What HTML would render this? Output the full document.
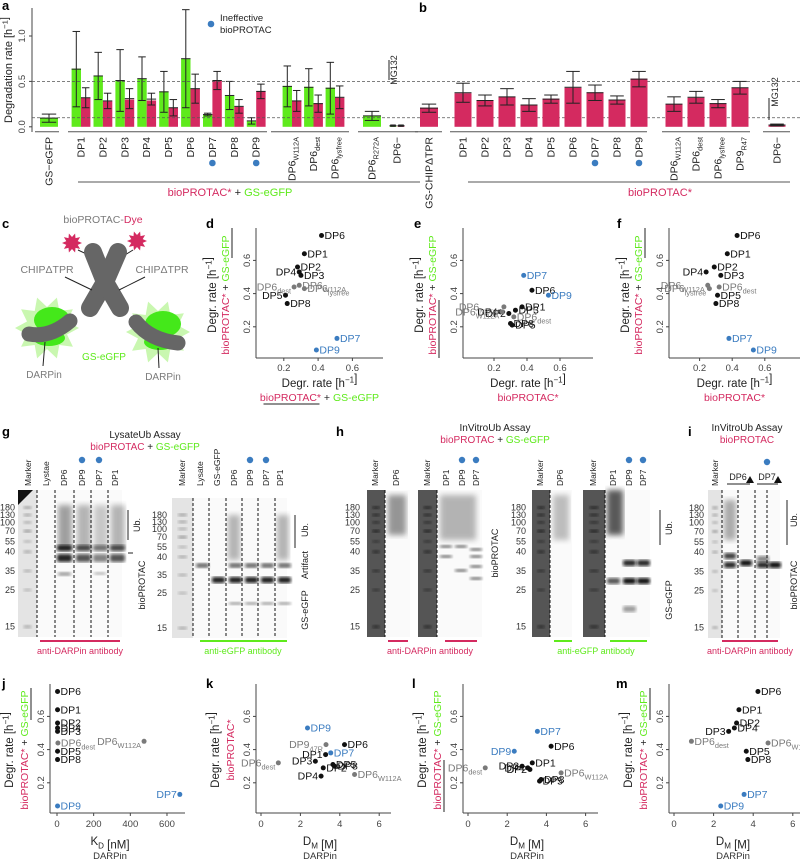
<!DOCTYPE html>
<html><head><meta charset="utf-8">
<style>
html,body{margin:0;padding:0;background:#fff;}
svg{display:block;font-family:"Liberation Sans",Arial,sans-serif;}
</style></head>
<body>
<svg id="fig" width="800" height="861" viewBox="0 0 800 861" xmlns="http://www.w3.org/2000/svg">
<defs>
<filter id="blur1"><feGaussianBlur stdDeviation="1.6"/></filter>
<filter id="blur2"><feGaussianBlur stdDeviation="3"/></filter>
</defs>
</svg>
<script>
// ---------- DATA ----------
const cats = ["DP1","DP2","DP3","DP4","DP5","DP6","DP7","DP8","DP9"];
const varCats = ["DP6_{W112A}","DP6_{dest}","DP6_{lysfree}"];
const aGreen = [0.64,0.56,0.51,0.53,0.39,0.75,0.13,0.34,0.06];
const aGreenLo = [0.22,0.30,0.17,0.29,0.16,0.21,0.12,0.19,0.03];
const aGreenHi = [1.05,0.82,0.85,0.77,0.61,1.29,0.15,0.50,0.10];
const aRed = [0.32,0.28,0.30,0.29,0.21,0.42,0.51,0.22,0.39];
const aRedLo = [0.21,0.20,0.20,0.24,0.12,0.26,0.41,0.15,0.31];
const aRedHi = [0.43,0.37,0.42,0.37,0.30,0.58,0.61,0.30,0.47];
const aVarGreen = [0.45,0.44,0.43];
const aVarGreenLo = [0.22,0.23,0.14];
const aVarGreenHi = [0.67,0.64,0.71];
const aVarRed = [0.29,0.26,0.32];
const aVarRedLo = [0.17,0.16,0.20];
const aVarRedHi = [0.40,0.35,0.45];
const aCtrl = [0.10,0.05,0.14];
const aR272A = [0.12,0.07,0.17];
const aMG = [0.01,0.005,0.02];
const bVal = [0.37,0.29,0.33,0.24,0.31,0.43,0.38,0.30,0.53];
const bLo = [0.27,0.23,0.24,0.17,0.26,0.26,0.29,0.25,0.44];
const bHi = [0.48,0.35,0.42,0.31,0.35,0.61,0.46,0.34,0.61];
const bVarCats = ["DP6_{W112A}","DP6_{dest}","DP6_{lysfree}","DP9_{R47}"];
const bVar = [0.25,0.32,0.26,0.43];
const bVarLo = [0.17,0.26,0.21,0.36];
const bVarHi = [0.33,0.39,0.30,0.50];
const bChip = [0.21,0.16,0.25];
const bMG = [0.02,0.01,0.03];
const ineffective = ["DP7","DP9"];
const yTicksA = [0.0,0.5,1.0];
const scTicks = [0.2,0.4,0.6];
const kdCats = ["DP1","DP2","DP3","DP4","DP5","DP6","DP7","DP8","DP9"];
const kdVals = [3,3,3,3,3,3,670,3,3];
const dmCats = ["DP1","DP2","DP3","DP4","DP5","DP6","DP7","DP8","DP9"];
const dmVals = [3.28,3.16,2.76,3.05,3.65,4.24,3.54,3.73,2.36];
const dmDest = 0.88, dmW112A = 4.75, dm47R = 3.3, kdW112A = 475, kdDest = 5;
const kdTicks = [0,200,400,600];
const dmTicks = [0,2,4,6];

// ---------- HELPERS ----------
const NS="http://www.w3.org/2000/svg";
const svg=document.getElementById('fig');
function mk(tag,attrs,parent,name,inter){
  const el=document.createElementNS(NS,tag);
  for(const k in attrs) el.setAttribute(k,attrs[k]);
  
  
  (parent||svg).appendChild(el);
  return el;
}
function grp(name){return mk('g',{},svg,name);}
function line(p,x1,y1,x2,y2,c,w,dash,name){
  const a={x1,y1,x2,y2,stroke:c||'#333','stroke-width':w||1};
  if(dash) a['stroke-dasharray']=dash;
  return mk('line',a,p,name||'line');
}
function txt(p,x,y,s,o){
  o=o||{};
  const a={x,y,'font-size':o.size||9,fill:o.color||'#222','text-anchor':o.anchor||'start'};
  if(o.weight) a['font-weight']=o.weight;
  if(o.rot!==undefined) a.transform=`rotate(${o.rot} ${x} ${y})`;
  const t=mk('text',a,p,o.name||'label');
  const parts=s.split(/(_\{[^}]*\}|\^\{[^}]*\})/);
  const fs=o.size||9;
  for(const part of parts){
    if(!part) continue;
    const ts=document.createElementNS(NS,'tspan');
    if(part[0]==='_'&&part[1]==='{'){
      ts.textContent=part.slice(2,-1);
      ts.setAttribute('font-size',fs*0.7);
      ts.setAttribute('dy',fs*0.3);
      t.appendChild(ts);
      const back=document.createElementNS(NS,'tspan');back.setAttribute('dy',-fs*0.3);back.textContent='';t.appendChild(back);
    }else if(part[0]==='^'&&part[1]==='{'){
      ts.textContent=part.slice(2,-1);
      ts.setAttribute('font-size',fs*0.7);
      ts.setAttribute('dy',-fs*0.4);
      t.appendChild(ts);
      const back=document.createElementNS(NS,'tspan');back.setAttribute('dy',fs*0.4);back.textContent='';t.appendChild(back);
    }else{ts.textContent=part;t.appendChild(ts);}
  }
  return t;
}
function multi(p,x,y,segs,o){
  const a={x,y,'font-size':o.size||10,'text-anchor':o.anchor||'middle'};
  if(o.rot!==undefined) a.transform=`rotate(${o.rot} ${x} ${y})`;
  const t=mk('text',a,p,o.name||'label');
  for(const [s,c] of segs){const ts=document.createElementNS(NS,'tspan');ts.textContent=s;ts.setAttribute('fill',c);t.appendChild(ts);}
  return t;
}
const GREEN='#5fea1c', RED='#d42a60', BLUE='#3b7cc0', GRAY='#7a7a7a';
function letter(x,y,s){txt(svg,x,y,s,{size:13,weight:'bold',color:'#000',name:'panel-letter-'+s});}

// ---------- PANELS a & b ----------
const y0=126.8, ky=90.8;
const ya=v=>y0-v*ky;
const gA=grp('panel-a');
letter(2,10,'a'); letter(419,12,'b');
line(gA,32,8,32,132,'#444',1,null,'y-axis');
yTicksA.forEach(t=>{line(gA,29,ya(t),32,ya(t),'#444',1,null,'y-tick');
  txt(gA,25,ya(t),t.toFixed(1),{size:9.5,anchor:'middle',rot:-90,color:'#444',name:'y-tick-label'});});
txt(gA,12,70,'Degradation rate [h^{−1}]',{size:11,anchor:'middle',rot:-90,name:'y-axis-title'});
line(svg,32,ya(0.5),800,ya(0.5),'#555',0.8,'3,2','ref-line-0.5');
line(svg,32,ya(0.1),800,ya(0.1),'#555',0.8,'3,2','ref-line-0.1');
function bar(p,cx,w,v,lo,hi,color,name){
  mk('rect',{x:cx-w/2,y:ya(v),width:w,height:ya(0)-ya(v),fill:color},p,name);
  const c='#222';
  line(p,cx,ya(lo),cx,ya(hi),c,1,null,'error-bar');
  line(p,cx-w*0.4,ya(hi),cx+w*0.4,ya(hi),c,1,null,'error-cap');
  line(p,cx-w*0.4,ya(lo),cx+w*0.4,ya(lo),c,1,null,'error-cap');
  line(p,cx-w/2,ya((lo+hi)/2),cx+w/2,ya((lo+hi)/2),c,1,null,'mean-line');
}
function xlab(p,cx,s){txt(p,cx+3.5,137,s,{size:10.5,anchor:'end',rot:-90,name:'x-label'});}
bar(gA,49,18,aCtrl[0],aCtrl[1],aCtrl[2],GREEN,'bar-gs-egfp');
xlab(gA,49,'GS−eGFP');
const pairX=i=>81+i*21.9;
cats.forEach((c,i)=>{
  const cx=pairX(i);
  bar(gA,cx-4.7,9.4,aGreen[i],aGreenLo[i],aGreenHi[i],GREEN,'bar-green-'+c);
  bar(gA,cx+4.7,9.4,aRed[i],aRedLo[i],aRedHi[i],RED,'bar-red-'+c);
  xlab(gA,cx,c);
  if(ineffective.includes(c)) mk('circle',{cx:cx,cy:163,r:3.3,fill:BLUE},gA,'ineffective-dot');
});
varCats.forEach((c,i)=>{
  const cx=292+i*21.5;
  bar(gA,cx-4.7,9.4,aVarGreen[i],aVarGreenLo[i],aVarGreenHi[i],GREEN,'bar-green-var');
  bar(gA,cx+4.7,9.4,aVarRed[i],aVarRedLo[i],aVarRedHi[i],RED,'bar-red-var');
  xlab(gA,cx,c);
});
bar(gA,372,18,aR272A[0],aR272A[1],aR272A[2],GREEN,'bar-r272a');
xlab(gA,372,'DP6_{R272A}');
bar(gA,393,7,aMG[0],aMG[1],aMG[2],GREEN,'bar-mg-green');
bar(gA,401,7,aMG[0],aMG[1],aMG[2],RED,'bar-mg-red');
xlab(gA,397,'DP6−');
line(gA,389,60,389,80,'#222',1,null,'mg132-line');
txt(gA,397,70,'MG132',{size:9,anchor:'middle',rot:-90,name:'mg132-label'});
[[35,59],[68,267],[271,349],[358,418]].forEach(s=>line(gA,s[0],131.7,s[1],131.7,'#555',1,null,'axis-segment'));
mk('circle',{cx:211,cy:24,r:3.3,fill:BLUE},gA,'legend-dot');
txt(gA,220,21,'Ineffective',{size:9.5,name:'legend-text'});
txt(gA,220,33,'bioPROTAC',{size:9.5,name:'legend-text'});
line(gA,78,182,420,182,'#555',1,null,'group-line');
multi(gA,230,196,[['bioPROTAC*',RED],[' + ','#222'],['GS-eGFP',GREEN]],{size:11,name:'group-label'});

const gB=grp('panel-b');
bar(gB,429,18,bChip[0],bChip[1],bChip[2],RED,'bar-chip');
xlab(gB,429,'GS-CHIPΔTPR');
cats.forEach((c,i)=>{
  const cx=463+i*22;
  bar(gB,cx,17,bVal[i],bLo[i],bHi[i],RED,'bar-b-'+c);
  xlab(gB,cx,c);
  if(ineffective.includes(c)) mk('circle',{cx:cx,cy:163,r:3.3,fill:BLUE},gB,'ineffective-dot');
});
bVarCats.forEach((c,i)=>{
  const cx=674+i*22;
  bar(gB,cx,17,bVar[i],bVarLo[i],bVarHi[i],RED,'bar-b-var');
  xlab(gB,cx,c);
});
bar(gB,777,17,bMG[0],bMG[1],bMG[2],RED,'bar-b-mg');
xlab(gB,777,'DP6−');
line(gB,769,98,769,120,'#222',1,null,'mg132-line');
txt(gB,778,92,'MG132',{size:9,anchor:'middle',rot:-90,name:'mg132-label'});
[[415,442],[450,647],[662,750],[763,790]].forEach(s=>line(gB,s[0],131.7,s[1],131.7,'#555',1,null,'axis-segment'));
line(gB,468,182,790,182,'#555',1,null,'group-line');
txt(gB,660,196,'bioPROTAC*',{size:11,color:RED,anchor:'middle',name:'group-label'});

// ---------- PANEL c ----------
const gC=grp('panel-c');
letter(2,228,'c');
multi(gC,103,223,[['bioPROTAC-',GRAY],['Dye',RED]],{size:10.5,name:'dye-label'});
function star(cx,cy,r1,r2,n,fill,name){
  let pts=[];for(let k=0;k<2*n;k++){const r=k%2?r2:r1;const a=Math.PI*k/n;pts.push((cx+r*Math.cos(a)).toFixed(1)+','+(cy+r*Math.sin(a)).toFixed(1));}
  return mk('polygon',{points:pts.join(' '),fill},gC,name);
}
[[47,328],[158,332]].forEach(([x,y])=>{
  star(x,y,32,21,10,'#c9f7b0','egfp-glow');
  mk('ellipse',{cx:x+5,cy:y-8,rx:18,ry:13,fill:'#44e81a'},gC,'egfp');
  mk('ellipse',{cx:x+2,cy:y+10,rx:16,ry:8,fill:'#44e81a'},gC,'egfp');
});
line(gC,78,250,95,258,'#222',1,null,'dye-linker');
line(gC,133,250,120,258,'#222',1,null,'dye-linker');
star(72,243,10,6,10,RED,'dye-star');
star(137,241,10,6,10,RED,'dye-star');
mk('path',{d:'M93,252 L105,282 L90,308',stroke:'#666','stroke-width':18,fill:'none','stroke-linecap':'round','stroke-linejoin':'round'},gC,'chip-arm');
mk('path',{d:'M118,252 L105,282 L120,308',stroke:'#666','stroke-width':18,fill:'none','stroke-linecap':'round','stroke-linejoin':'round'},gC,'chip-arm');
mk('path',{d:'M29,334 Q50,338 70,321',stroke:'#666','stroke-width':15,fill:'none','stroke-linecap':'round'},gC,'darpin');
mk('path',{d:'M136,322 Q150,340 178,343',stroke:'#666','stroke-width':15,fill:'none','stroke-linecap':'round'},gC,'darpin');
txt(gC,47,273,'CHIPΔTPR',{size:10.5,color:GRAY,anchor:'middle',name:'chip-label'});
txt(gC,162,273,'CHIPΔTPR',{size:10.5,color:GRAY,anchor:'middle',name:'chip-label'});
line(gC,65,277,92,290,'#222',1,null,'pointer');
line(gC,145,277,119,290,'#222',1,null,'pointer');
txt(gC,104,360,'GS-eGFP',{size:10,color:GREEN,anchor:'middle',name:'egfp-label'});
txt(gC,44,378,'DARPin',{size:10,color:GRAY,anchor:'middle',name:'darpin-label'});
txt(gC,163,380,'DARPin',{size:10,color:GRAY,anchor:'middle',name:'darpin-label'});
line(gC,45,342,43,366,'#222',1,null,'pointer');
line(gC,158,348,159,368,'#222',1,null,'pointer');

// ---------- SCATTER PANELS d e f ----------
const ysc=v=>360-166*v;
function scatterFrame(name,ax,xEnd){
  const g=grp(name);
  line(g,ax,228,ax,358,'#444',1,null,'y-axis');
  line(g,ax,358,xEnd,358,'#444',1,null,'x-axis');
  return g;
}
const ptsNames=cats.concat(["DP6_{W112A}","DP6_{dest}","DP6_{lysfree}"]);
function scatter(g,xs,ys,xfun,labelsLeft){
  ptsNames.forEach((n,i)=>{
    const isVar=i>=9, blue=ineffective.includes(n);
    const col=blue?BLUE:(isVar?GRAY:'#111');
    const x=xfun(xs[i]), y=ysc(ys[i]);
    mk('circle',{cx:x,cy:y,r:2.5,fill:col},g,'point-'+n.replace(/[_{}]/g,''));
    const left=labelsLeft.includes(n);
    txt(g,left?x-3:x+3,y+3.5,n,{size:10.5,color:col,anchor:left?'end':'start',name:'point-label'});
  });
}
const sdX=[...aRed,...aVarRed], sdY=[...aGreen,...aVarGreen];
const seX=[...bVal,...bVar.slice(0,3)], seY=[...aRed,...aVarRed];
const sfX=[...bVal,...bVar.slice(0,3)], sfY=[...aGreen,...aVarGreen];
function xTicks(g,xf){scTicks.forEach(t=>{line(g,xf(t),358,xf(t),361,'#444',1,null,'x-tick');txt(g,xf(t),371,t.toFixed(1),{size:9.5,anchor:'middle',color:'#444',name:'x-tick-label'});});}
function yTicks(g,ax){scTicks.forEach(t=>{line(g,ax-3,ysc(t),ax,ysc(t),'#444',1,null,'y-tick');txt(g,ax-6,ysc(t),t.toFixed(1),{size:9.5,anchor:'middle',rot:-90,color:'#444',name:'y-tick-label'});});}
function scTitles(g,ax,xEnd,ySegs,yUnder,xSegs,xUnder){
  const cx=(ax+xEnd)/2;
  txt(g,ax-40,295,'Degr. rate [h^{−1}]',{size:11.5,anchor:'middle',rot:-90,name:'y-axis-title'});
  multi(g,ax-27,295,ySegs,{size:10.5,rot:-90,name:'y-axis-subtitle'});
  if(yUnder) line(g,ax-24,yUnder[0],ax-24,yUnder[1],'#222',1,null,'underline');
  txt(g,cx,387,'Degr. rate [h^{−1}]',{size:11.5,anchor:'middle',name:'x-axis-title'});
  multi(g,cx,401,xSegs,{size:10.5,name:'x-axis-subtitle'});
  if(xUnder) line(g,cx+xUnder[0],404,cx+xUnder[1],404,'#222',1,null,'underline');
}
const segsBothS=[['bioPROTAC*',RED],[' + ','#222'],['GS-eGFP',GREEN]];
// d
letter(206,228,'d');
const gD=scatterFrame('panel-d',256,383);
const xd=v=>249.5+171.5*v;
xTicks(gD,xd);yTicks(gD,256);
scatter(gD,sdX,sdY,xd,["DP4","DP5","DP6_{dest}"]);
scTitles(gD,256,383,segsBothS,[228,258],segsBothS,[-56,0]);
// e
letter(414,228,'e');
const gE=scatterFrame('panel-e',463,593);
const xe=v=>461+165*v;
xTicks(gE,xe);yTicks(gE,463);
scatter(gE,seX,seY,xe,["DP4","DP2","DP6_{W112A}","DP6_{lysfree}"]);
scTitles(gE,463,593,segsBothS,[300,358],[['bioPROTAC*',RED]],null);
// f
letter(617,228,'f');
const gF=scatterFrame('panel-f',669,800);
const xf=v=>667+163*v;
xTicks(gF,xf);yTicks(gF,669);
scatter(gF,sfX,sfY,xf,["DP4","DP6_{W112A}","DP6_{lysfree}"]);
scTitles(gF,669,800,segsBothS,[228,258],[['bioPROTAC*',RED]],null);

// ---------- GELS ----------
function gel(g,x,y,w,h,markerW,markerDark,dashes,name){
  mk('rect',{x,y,width:markerW,height:h,fill:markerDark?'#555':'#e4e4e4'},g,name+'-marker-lane');
  const mw=[[0.12,0.9],[0.17,0.8],[0.22,0.7],[0.28,1],[0.35,0.6],[0.42,0.8],[0.55,0.7],[0.68,0.6],[0.93,0.8]];
  mw.forEach(([f,o])=>mk('rect',{x:x+markerW*0.3,y:y+h*f-1.5,width:markerW*0.4,height:3,fill:markerDark?'#222':'#999',opacity:o,filter:'url(#blur1)'},g,'marker-band'));
  mk('rect',{x:x+markerW,y,width:w-markerW,height:h,fill:'#fafafa'},g,name+'-gel');
  dashes.forEach(dx=>line(g,dx,y,dx,y+h,'#111',1,'3,2','lane-divider'));
}
function band(g,x,y,w,h,o,name){mk('rect',{x,y,width:w,height:h,fill:'#111',opacity:o,filter:'url(#blur1)',rx:2},g,name||'band');}
function smear(g,x,y,w,h,o){mk('rect',{x,y,width:w,height:h,fill:'#333',opacity:o,filter:'url(#blur2)'},g,'ub-smear');}
function mwLabels(g,x,top,h){
  const labs=[['180',0.12],['130',0.17],['100',0.22],['70',0.28],['55',0.35],['40',0.42],['35',0.55],['25',0.68],['15',0.93]];
  labs.forEach(([s,f])=>txt(g,x,top+h*f+3,s,{size:9,anchor:'end',color:'#333',name:'mw-label'}));
}
function laneLabels(g,xs,labels,yb){xs.forEach((x,i)=>txt(g,x+3,yb,labels[i],{size:8.5,anchor:'start',rot:-90,name:'lane-label'}));}
function dots(g,xs){xs.forEach(x=>mk('circle',{cx:x,cy:460,r:3.2,fill:BLUE},g,'ineffective-dot'));}

const gG=grp('panel-g');
letter(2,436,'g');
txt(gG,145,438,'LysateUb Assay',{size:10,anchor:'middle',name:'gel-title'});
multi(gG,145,450,[['bioPROTAC',RED],[' + ','#222'],['GS-eGFP',GREEN]],{size:10,name:'gel-subtitle'});
gel(gG,18,490,104,147,19,false,[37,55,74,91,108],'gel-g1');
mk('polygon',{points:'18,490 33,490 18,505',fill:'#111'},gG,'corner');
mwLabels(gG,15,490,147);
laneLabels(gG,[28,46,64,82,99,115],['Marker','Lystae','DP6','DP9','DP7','DP1'],486);
dots(gG,[82,99]);
[[57,0.9],[76,0.7],[93,0.5],[110,0.7]].forEach(([x,o])=>{smear(gG,x+1,505,14,45,o*0.5);band(gG,x,545,15,6,o);band(gG,x,554,15,8,o);});
band(gG,58,572,13,4,0.4);band(gG,94,572,12,3,0.3);
line(gG,128,510,128,540,'#222',1,null,'ub-bracket');
txt(gG,140,525,'Ub.',{size:9,anchor:'middle',rot:-90,name:'ub-label'});
line(gG,128,553,133,553,'#222',1,null,'bracket');
txt(gG,145,585,'bioPROTAC',{size:9,anchor:'middle',rot:-90,name:'bioprotac-label'});
line(gG,40,641,120,641,RED,2,null,'antibody-line');
txt(gG,80,654,'anti-DARPin antibody',{size:9,color:RED,anchor:'middle',name:'antibody-label'});
gel(gG,172,498,115,140,21,false,[193,209,226,242,258,275],'gel-g2');
mwLabels(gG,167,498,140);
laneLabels(gG,[182,200,217,234,250,266,280],['Marker','Lysate','GS-eGFP','DP6','DP9','DP7','DP1'],486);
dots(gG,[250,266]);
[195,211,228,244,260,277].forEach((x,i)=>{band(gG,x+1,563,13,5,i==1?0:0.6);band(gG,x+1,577,13,6,i==0?0:0.95);if(i>1)band(gG,x+1,602,13,3,0.4);});
[228,277].forEach(x=>smear(gG,x,515,12,45,0.35));
line(gG,295,515,295,548,'#222',1,null,'ub-bracket');
txt(gG,308,530,'Ub.',{size:9,anchor:'middle',rot:-90,name:'ub-label'});
txt(gG,308,565,'Artifact',{size:9,anchor:'middle',rot:-90,name:'artifact-label'});
txt(gG,308,610,'GS-eGFP',{size:9,anchor:'middle',rot:-90,name:'gs-egfp-label'});
line(gG,200,641,287,641,GREEN,2,null,'antibody-line');
txt(gG,243,654,'anti-eGFP antibody',{size:9,color:GREEN,anchor:'middle',name:'antibody-label'});

const gH=grp('panel-h');
letter(336,436,'h');
txt(gH,495,431,'InVitroUb Assay',{size:10,anchor:'middle',name:'gel-title'});
multi(gH,495,443,[['bioPROTAC',RED],[' + ','#222'],['GS-eGFP',GREEN]],{size:10,name:'gel-subtitle'});
gel(gH,367,490,43,147,18,true,[385],'gel-h1');
mwLabels(gH,360,490,147);
smear(gH,388,495,18,40,0.5);
laneLabels(gH,[375,396],['Marker','DP6'],486);
gel(gH,418,490,64,147,19,true,[437],'gel-h2');
laneLabels(gH,[427,446,462,476],['Marker','DP1','DP9','DP7'],486);
dots(gH,[462,476]);
smear(gH,440,495,36,45,0.35);
[[440,545],[455,545],[470,548],[440,555],[470,555],[470,565],[455,569],[470,577]].forEach(([x,y])=>band(gH,x,y,12,3,0.6));
gel(gH,532,490,40,147,18,true,[550],'gel-h3');
laneLabels(gH,[540,560],['Marker','DP6'],486);
smear(gH,553,495,16,45,0.3);
gel(gH,583,490,67,147,22,true,[605],'gel-h4');
mwLabels(gH,526,490,147);
laneLabels(gH,[593,613,629,643],['Marker','DP1','DP9','DP7'],486);
dots(gH,[629,643]);
smear(gH,607,490,16,45,0.8);
[[623,560,0.9],[637,560,0.9],[607,578,0.7],[623,578,1],[637,578,1],[623,606,0.4]].forEach(([x,y,o])=>band(gH,x,y,13,6,o));
line(gH,660,510,660,545,'#222',1,null,'ub-bracket');
txt(gH,672,528,'Ub.',{size:9,anchor:'middle',rot:-90,name:'ub-label'});
txt(gH,672,600,'GS-eGFP',{size:9,anchor:'middle',rot:-90,name:'gs-egfp-label'});
txt(gH,498,553,'bioPROTAC',{size:9,anchor:'middle',rot:-90,name:'bioprotac-label'});
line(gH,388,641,408,641,RED,2,null,'antibody-line');
line(gH,445,641,477,641,RED,2,null,'antibody-line');
txt(gH,430,654,'anti-DARPin antibody',{size:9,color:RED,anchor:'middle',name:'antibody-label'});
line(gH,554,641,572,641,GREEN,2,null,'antibody-line');
line(gH,610,641,647,641,GREEN,2,null,'antibody-line');
txt(gH,596,654,'anti-eGFP antibody',{size:9,color:GREEN,anchor:'middle',name:'antibody-label'});

const gI=grp('panel-i');
letter(688,436,'i');
txt(gI,747,431,'InVitroUb Assay',{size:10,anchor:'middle',name:'gel-title'});
txt(gI,747,443,'bioPROTAC',{size:10,color:RED,anchor:'middle',name:'gel-subtitle'});
gel(gI,708,490,72,148,14,false,[722,738,755,767],'gel-i');
mwLabels(gI,704,490,148);
laneLabels(gI,[715],['Marker'],486);
txt(gI,738,480,'DP6',{size:9,anchor:'middle',name:'lane-label'});
txt(gI,767,480,'DP7',{size:9,anchor:'middle',name:'lane-label'});
line(gI,727,484,750,484,'#222',1,null,'lane-bracket');
line(gI,757,484,778,484,'#222',1,null,'lane-bracket');
mk('polygon',{points:'746,483 750,476 754,483',fill:'#111'},gI,'treatment-arrow');
mk('polygon',{points:'774,483 778,476 782,483',fill:'#111'},gI,'treatment-arrow');
mk('circle',{cx:767,cy:462,r:3.2,fill:BLUE},gI,'ineffective-dot');
smear(gI,724,500,12,40,0.4);
[[724,553,0.8],[724,562,0.9],[740,560,1],[757,556,0.5],[757,562,0.9],[769,562,1]].forEach(([x,y,o])=>band(gI,x,y,12,6,o));
line(gI,787,500,787,545,'#222',1,null,'ub-bracket');
txt(gI,797,520,'Ub.',{size:9,anchor:'middle',rot:-90,name:'ub-label'});
txt(gI,797,585,'bioPROTAC',{size:9,anchor:'middle',rot:-90,name:'bioprotac-label'});
line(gI,722,641,778,641,RED,2,null,'antibody-line');
txt(gI,750,654,'anti-DARPin antibody',{size:9,color:RED,anchor:'middle',name:'antibody-label'});

// ---------- BOTTOM SCATTERS ----------
const yb=v=>816-166*v;
function bFrame(name,ax){
  const g=grp(name);
  line(g,ax,684,ax,813,'#444',1,null,'y-axis');
  line(g,ax,813,ax+135,813,'#444',1,null,'x-axis');
  scTicks.forEach(t=>{line(g,ax-3,yb(t),ax,yb(t),'#444',1,null,'y-tick');txt(g,ax-6,yb(t),t.toFixed(1),{size:9.5,anchor:'middle',rot:-90,color:'#444',name:'y-tick-label'});});
  return g;
}
function bXTicks(g,ticks,xf){ticks.forEach(t=>{line(g,xf(t),813,xf(t),816,'#444',1,null,'x-tick');txt(g,xf(t),827,String(t),{size:9.5,anchor:'middle',color:'#444',name:'x-tick-label'});});}
function bPts(g,names,xs,ys,xf,left){
  names.forEach((n,i)=>{
    const blue=ineffective.includes(n), gray=/_/.test(n);
    const col=blue?BLUE:(gray?GRAY:'#111');
    const x=xf(xs[i]),y=yb(ys[i]);
    mk('circle',{cx:x,cy:y,r:2.5,fill:col},g,'point');
    const l=left.includes(n);
    txt(g,l?x-3:x+3,y+3.5,n,{size:10.5,color:col,anchor:l?'end':'start',name:'point-label'});
  });
}
function bTitles(g,cx,ax,ySegs,xTitle,underline){
  txt(g,ax-37,750,'Degr. rate [h^{−1}]',{size:11.5,anchor:'middle',rot:-90,name:'y-axis-title'});
  multi(g,ax-22,750,ySegs,{size:10.5,rot:-90,name:'y-axis-subtitle'});
  if(underline) line(g,ax-19,underline[0],ax-19,underline[1],'#222',1,null,'underline');
  txt(g,cx,845,xTitle,{size:11.5,anchor:'middle',name:'x-axis-title'});
  txt(g,cx,859,'DARPin',{size:9.5,anchor:'middle',color:'#333',name:'x-axis-subtitle'});
}
const segsBoth=[['bioPROTAC*',RED],[' + ','#222'],['GS-eGFP',GREEN]];
letter(2,688,'j');
const gJ=bFrame('panel-j',50);
const xj=v=>57+0.1833*v;
bXTicks(gJ,kdTicks,xj);
bPts(gJ,kdCats.concat(["DP6_{W112A}","DP6_{dest}"]),kdVals.concat([kdW112A,kdDest]),aGreen.concat([aVarGreen[0],aVarGreen[1]]),xj,["DP7","DP6_{W112A}"]);
bTitles(gJ,110,50,segsBoth,'K_{D} [nM]',[688,720]);
letter(206,688,'k');
const gK=bFrame('panel-k',256);
const xk=v=>261+19.7*v;
bXTicks(gK,dmTicks,xk);
bPts(gK,dmCats.concat(["DP6_{dest}","DP6_{W112A}","DP9_{47R}"]),dmVals.concat([dmDest,dmW112A,dm47R]),bVal.concat([bVar[1],bVar[0],bVar[3]]),xk,["DP1","DP3","DP4","DP6_{dest}","DP9_{47R}"]);
bTitles(gK,320,256,[['bioPROTAC*',RED]],'D_{M} [M]',null);
letter(412,688,'l');
const gL=bFrame('panel-l',463);
const xl=v=>468+19.6*v;
bXTicks(gL,dmTicks,xl);
bPts(gL,dmCats.concat(["DP6_{dest}","DP6_{W112A}"]),dmVals.concat([dmDest,dmW112A]),aRed.concat([aVarRed[0],aVarRed[1]]),xl,["DP9","DP3","DP4","DP2","DP6_{dest}"]);
bTitles(gL,527,463,segsBoth,'D_{M} [M]',[760,812]);
letter(616,688,'m');
const gM=bFrame('panel-m',669);
const xm=v=>674+19.8*v;
bXTicks(gM,dmTicks,xm);
bPts(gM,dmCats.concat(["DP6_{dest}","DP6_{W112A}"]),dmVals.concat([dmDest,dmW112A]),aGreen.concat([aVarGreen[0],aVarGreen[1]]),xm,["DP3"]);
bTitles(gM,733,669,segsBoth,'D_{M} [M]',[688,720]);
</script>
</body></html>
